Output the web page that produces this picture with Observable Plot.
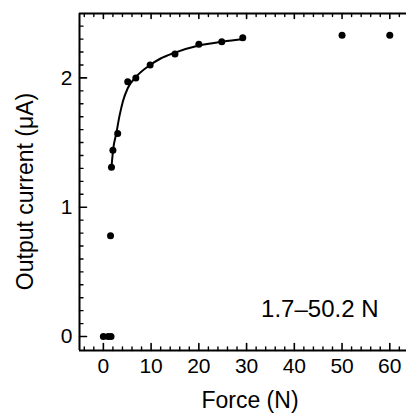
<!DOCTYPE html>
<html>
<head>
<meta charset="utf-8">
<script src="https://cdn.jsdelivr.net/npm/d3@7"></script>
<script src="https://cdn.jsdelivr.net/npm/@observablehq/plot@0.6"></script>
<style>
  html, body { margin: 0; padding: 0; background: #fff; }
  #chart svg { display: block; }
</style>
</head>
<body>
<div id="chart"></div>
<script>
// Measured data points
const force   = [0, 1.0, 1.6, 1.5, 1.7, 2.0, 3.0, 5.1, 6.8, 9.8, 15.0, 20.0, 24.8, 29.2, 50.0, 60.0];
const current = [0, 0, 0, 0.78, 1.31, 1.44, 1.57, 1.97, 2.00, 2.10, 2.185, 2.26, 2.28, 2.31, 2.33, 2.33];

// Fit curve
const fitForce   = [1.7, 2.1, 2.7, 3.4, 4.1, 5.1, 6.9, 9.8, 12.0, 15.0, 20.0, 25.0, 29.5];
const fitCurrent = [1.31, 1.46, 1.57, 1.71, 1.82, 1.92, 2.01, 2.10, 2.15, 2.195, 2.25, 2.28, 2.30];

// Ticks
const xMajor = [0, 10, 20, 30, 40, 50, 60];
const xMinor = [-4, -2, 2, 4, 6, 8, 12, 14, 16, 18, 22, 24, 26, 28, 32, 34, 36, 38, 42, 44, 46, 48, 52, 54, 56, 58, 62];
const yMajor = [0, 1, 2];
const yMinor = [0.1, 0.2, 0.3, 0.4, 0.5, 0.6, 0.7, 0.8, 0.9, 1.1, 1.2, 1.3, 1.4, 1.5, 1.6, 1.7, 1.8, 1.9, 2.1, 2.2, 2.3, 2.4];

const xLabel = "Force (N)";
const yLabel = "Output current (μA)";
const note = "1.7–50.2 N";

const points = force.map((f, i) => ({f, c: current[i]}));
const fit = fitForce.map((f, i) => ({f, c: fitCurrent[i]}));

const xDomain = [-5, 63.5];
const yDomain = [-0.108, 2.498];
const font = "Liberation Sans, Arial, Helvetica, sans-serif";

// straight tick shape for vector marks
const tickShape = {draw(context, l) { context.moveTo(0, 0); context.lineTo(0, -l); }};
const ticks = (data, channel, frameAnchor, rotate, length, sw) =>
  Plot.vector(data, {[channel]: d => d, frameAnchor, rotate, length, anchor: "start",
    shape: tickShape, stroke: "#000", strokeWidth: sw});

const chart = Plot.plot({
  width: 406,
  height: 414,
  marginLeft: 79,
  marginRight: 0,
  marginTop: 13,
  marginBottom: 64,
  style: {fontFamily: font, background: "#fff", color: "#000"},
  x: {domain: xDomain},
  y: {domain: yDomain},
  marks: [
    // frame lines (left, top, bottom)
    Plot.ruleX([xDomain[0]], {stroke: "#000", strokeWidth: 2}),
    Plot.ruleY([yDomain[1]], {stroke: "#000", strokeWidth: 2}),
    Plot.ruleY([yDomain[0]], {stroke: "#000", strokeWidth: 2}),
    // inward ticks
    ticks(xMajor, "x", "bottom", 0, 7, 1.6),
    ticks(xMinor, "x", "bottom", 0, 3.5, 1.4),
    ticks(xMajor, "x", "top", 180, 5, 1.6),
    ticks(xMinor, "x", "top", 180, 3, 1.4),
    ticks(yMajor, "y", "left", 90, 7, 1.6),
    ticks(yMinor, "y", "left", 90, 3.5, 1.4),
    // tick labels
    Plot.axisX({anchor: "bottom", ticks: xMajor, tickSize: 0, tickPadding: 8, fontSize: 21, label: null, tickFormat: d3.format("d")}),
    Plot.axisY({anchor: "left", ticks: yMajor, tickSize: 0, tickPadding: 7, fontSize: 21, label: null, tickFormat: d3.format("d")}),
    // axis titles
    Plot.text([xLabel], {frameAnchor: "bottom", text: d => d, dx: 7, dy: 57, textAnchor: "middle", lineAnchor: "bottom", fontSize: 23, fill: "#000", style: "letter-spacing:0.8px"}),
    Plot.text([yLabel], {frameAnchor: "left", text: d => d, rotate: -90, dx: -47, dy: 9.5, textAnchor: "middle", lineAnchor: "bottom", fontSize: 23, fill: "#000", style: "letter-spacing:1px"}),
    // annotation
    Plot.text([note], {frameAnchor: "bottom-right", text: d => d, dx: -28, dy: -33.5, textAnchor: "end", lineAnchor: "bottom", fontSize: 24, fill: "#000"}),
    // fit curve
    Plot.line(fit, {x: "f", y: "c", stroke: "#000", strokeWidth: 2, curve: "monotone-x"}),
    // data points
    Plot.dot(points, {x: "f", y: "c", r: 3.5, fill: "#000", stroke: "none"})
  ]
});
document.getElementById("chart").appendChild(chart);
</script>
</body>
</html>
